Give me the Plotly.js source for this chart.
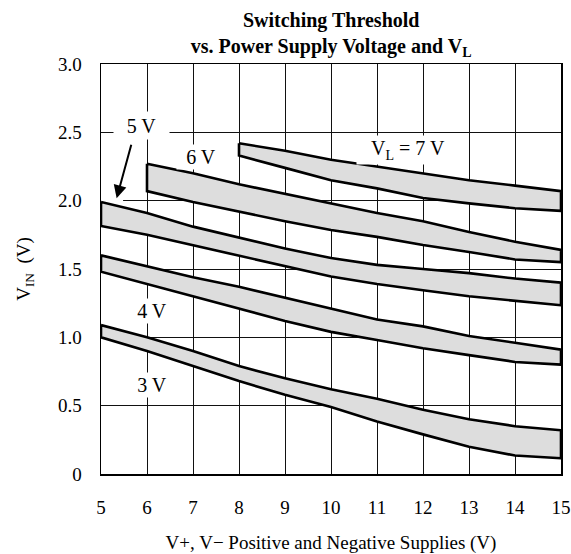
<!DOCTYPE html>
<html>
<head>
<meta charset="utf-8">
<script src="https://cdn.plot.ly/plotly-3.0.1.min.js"></script>
<style>html,body{margin:0;padding:0;background:#fff;}#chart{width:571px;height:554px;}</style>
</head>
<body>
<div id="chart"></div>
<script>
// Supply voltage (V+, V-) values
const supplyX = [5, 6, 7, 8, 9, 10, 11, 12, 13, 14, 15];
const supplyX6 = [6, 7, 8, 9, 10, 11, 12, 13, 14, 15];
const supplyX8 = [8, 9, 10, 11, 12, 13, 14, 15];

// VL = 3 V band
const vl3Upper = [1.09, 1.00, 0.90, 0.79, 0.70, 0.62, 0.55, 0.47, 0.40, 0.35, 0.32];
const vl3Lower = [1.00, 0.90, 0.79, 0.68, 0.58, 0.49, 0.385, 0.29, 0.20, 0.135, 0.115];
// VL = 4 V band
const vl4Upper = [1.60, 1.52, 1.44, 1.37, 1.29, 1.21, 1.13, 1.08, 1.01, 0.96, 0.91];
const vl4Lower = [1.48, 1.39, 1.30, 1.21, 1.12, 1.04, 0.98, 0.92, 0.87, 0.82, 0.80];
// VL = 5 V band
const vl5Upper = [1.99, 1.91, 1.81, 1.73, 1.65, 1.58, 1.53, 1.50, 1.47, 1.43, 1.40];
const vl5Lower = [1.815, 1.75, 1.67, 1.60, 1.52, 1.445, 1.39, 1.345, 1.30, 1.265, 1.235];
// VL = 6 V band (from 6 V supply)
const vl6Upper = [2.27, 2.20, 2.12, 2.05, 1.98, 1.91, 1.85, 1.77, 1.70, 1.64];
const vl6Lower = [2.07, 1.99, 1.92, 1.85, 1.785, 1.735, 1.675, 1.625, 1.57, 1.55];
// VL = 7 V band (from 8 V supply)
const vl7Upper = [2.42, 2.365, 2.30, 2.25, 2.20, 2.15, 2.11, 2.07];
const vl7Lower = [2.33, 2.24, 2.15, 2.09, 2.02, 1.98, 1.945, 1.925];

const yTickVals = [0, 0.5, 1.0, 1.5, 2.0, 2.5, 3.0];
const yTickText = ['0', '0.5', '1.0', '1.5', '2.0', '2.5', '3.0'];
const xTickText = ['5', '6', '7', '8', '9', '10', '11', '12', '13', '14', '15'];

const bandLabels = ['3 V', '4 V', '5 V', '6 V', 'V<sub>L</sub> = 7 V'];
const labelX = [6.10, 6.10, 5.88, 7.17, 11.67];
const labelY = [0.651, 1.19, 2.55, 2.318, 2.372];
const labelW = [44, 44, 53, 46, 100];
const labelH = [22, 22, 25, 22, 26];

// arrow from "5 V" label to the 5 V band
const arrowTail = [5.667, 2.42];
const arrowTip = [5.34, 2.017];
// white gap in the 2.0 gridline near the arrow tip
const gridGapX = [5.0, 5.48];
const gridGapY = 2.0;

const FONT = 'Liberation Serif, Times New Roman, serif';

function band(xs, up, lo) {
  const x = xs.concat(xs.slice().reverse(), [xs[0]]);
  const y = up.concat(lo.slice().reverse(), [up[0]]);
  return {
    x: x, y: y, type: 'scatter', mode: 'lines',
    fill: 'toself', fillcolor: '#dddddd',
    line: {color: '#000', width: 2.6},
    hoverinfo: 'skip', showlegend: false
  };
}

const data = [
  band(supplyX, vl3Upper, vl3Lower),
  band(supplyX, vl4Upper, vl4Lower),
  band(supplyX, vl5Upper, vl5Lower),
  band(supplyX6, vl6Upper, vl6Lower),
  band(supplyX8, vl7Upper, vl7Lower)
];

const annotations = bandLabels.map((t, i) => ({
  text: t, x: labelX[i], y: labelY[i], xref: 'x', yref: 'y',
  showarrow: false, bgcolor: '#ffffff', width: labelW[i], height: labelH[i],
  font: {family: FONT, size: 20, color: '#000'}
}));
annotations.push({
  text: '', x: arrowTip[0], y: arrowTip[1], ax: arrowTail[0], ay: arrowTail[1],
  xref: 'x', yref: 'y', axref: 'x', ayref: 'y',
  showarrow: true, arrowhead: 2, arrowsize: 1.3, arrowwidth: 2, arrowcolor: '#000'
});

const layout = {
  width: 571, height: 554,
  margin: {l: 101, r: 10, t: 64, b: 80, pad: 0},
  paper_bgcolor: '#fff', plot_bgcolor: '#fff',
  font: {family: FONT, size: 19, color: '#000'},
  title: {
    text: '<b>Switching Threshold<br>vs. Power Supply Voltage and V<sub>L</sub></b>',
    font: {family: FONT, size: 20, color: '#000'},
    x: 0.58, xref: 'container', xanchor: 'center',
    y: 0.952, yref: 'container', yanchor: 'top'
  },
  xaxis: {
    range: [5, 15], tickvals: supplyX, ticktext: xTickText,
    showgrid: true, gridcolor: '#111', gridwidth: 1,
    showline: true, mirror: true, linecolor: '#000', linewidth: 1.5,
    zeroline: false, ticks: '', ticklabelstandoff: 16,
    tickfont: {family: FONT, size: 19},
    title: {text: 'V+, V\u2212 Positive and Negative Supplies (V)', font: {family: FONT, size: 19}, standoff: 18},
    fixedrange: true
  },
  yaxis: {
    range: [0, 3], tickvals: yTickVals, ticktext: yTickText,
    showgrid: true, gridcolor: '#111', gridwidth: 1,
    showline: true, mirror: true, linecolor: '#000', linewidth: 1.5,
    zeroline: false, ticks: '', ticklabelstandoff: 14,
    tickfont: {family: FONT, size: 19},
    title: {text: 'V<sub>IN</sub>  (V)', font: {family: FONT, size: 19}, standoff: 22},
    fixedrange: true
  },
  shapes: [{
    type: 'line', layer: 'between', xref: 'x', yref: 'y',
    x0: gridGapX[0], x1: gridGapX[1], y0: gridGapY, y1: gridGapY,
    line: {color: '#ffffff', width: 3}
  }],
  annotations: annotations,
  showlegend: false
};

Plotly.newPlot('chart', data, layout, {displayModeBar: false, staticPlot: true});
</script>
</body>
</html>
